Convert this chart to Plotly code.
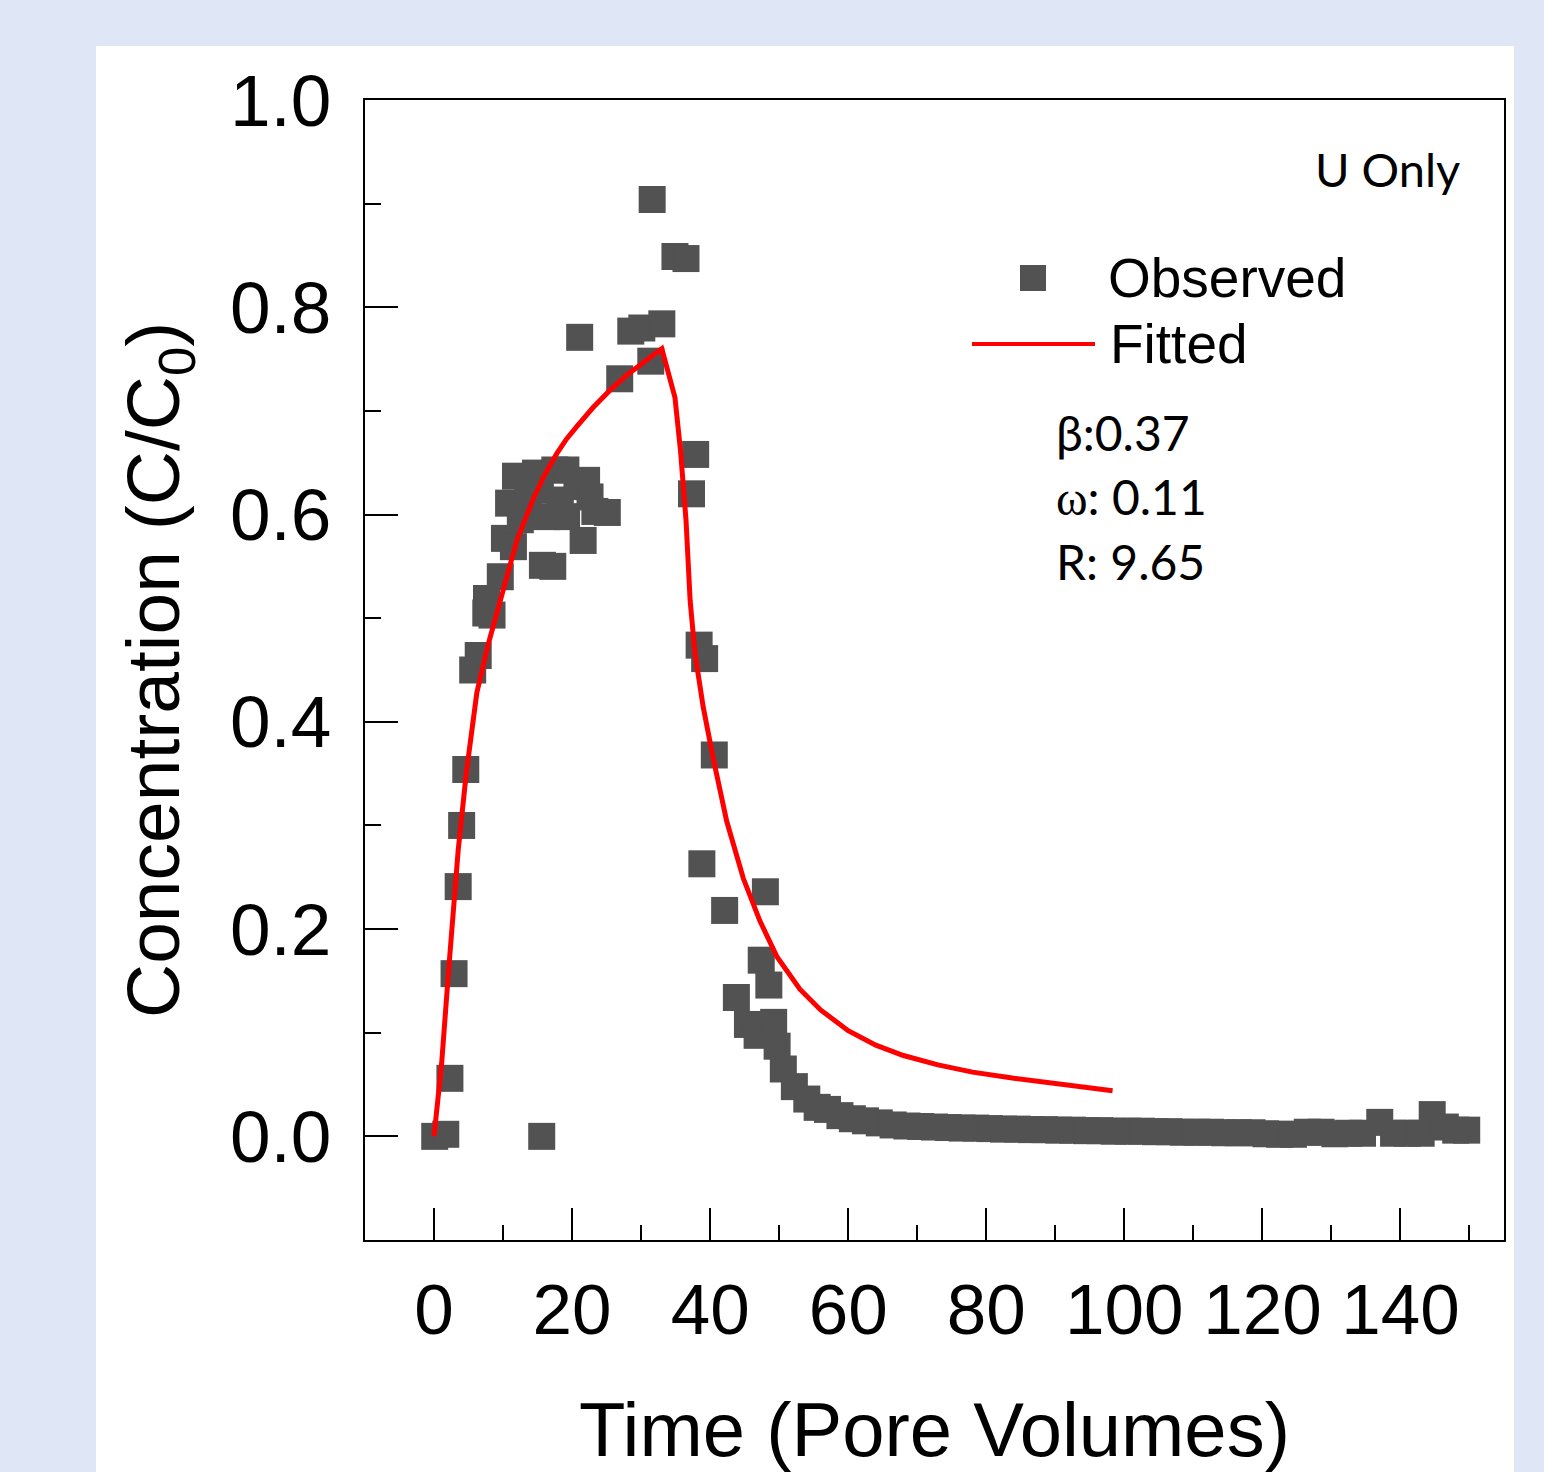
import plotly.graph_objects as go

# ---------------- data ----------------
obs_x = [0.1, 1.7, 2.3, 2.9, 3.5, 4.0, 4.6, 5.6, 6.4, 7.5, 8.4, 7.6, 9.6, 10.2, 10.8,
         11.5, 11.8, 12.5, 13.6, 14.7, 15.4, 15.7, 15.6, 16.3, 17.2, 17.5, 18.3, 19.1,
         19.2, 20.7, 21.1, 21.6, 22.1, 22.6, 23.3, 25.1, 26.9, 28.5, 30.1, 31.4, 31.6,
         33.0, 34.9, 36.5, 37.3, 37.9, 38.4, 39.2, 40.6, 38.8, 42.1, 43.8, 45.4, 46.8,
         47.4, 48.0, 48.5, 49.2, 49.7, 50.6, 52.2, 54.0, 55.5, 57.0, 58.8, 60.6,
         62.5, 64.5, 66.5, 68.5, 70.5, 72.5, 74.5, 76.5, 78.5, 80.5, 82.5, 84.5, 86.5,
         88.5, 90.5, 92.5, 94.5, 96.5, 98.5, 100.5, 102.5, 104.5, 106.5, 108.5, 110.5,
         112.5, 114.5, 116.5, 118.5, 120.5, 122.5, 124.5, 126.5, 128.5, 130.5, 132.5,
         134.5, 137.0, 139.0, 141.0, 143.0, 144.6, 146.5, 148.0, 149.6]
obs_y = [0.000, 0.002, 0.056, 0.157, 0.241, 0.300, 0.354, 0.450, 0.464, 0.505, 0.503,
         0.519, 0.540, 0.577, 0.611, 0.569, 0.637, 0.595, 0.616, 0.640, 0.624, 0.551,
         0.000, 0.598, 0.550, 0.643, 0.614, 0.643, 0.598, 0.627, 0.771, 0.575, 0.633,
         0.617, 0.603, 0.602, 0.731, 0.777, 0.780, 0.748, 0.904, 0.784, 0.849, 0.847,
         0.620, 0.658, 0.474, 0.461, 0.368, 0.263, 0.218, 0.134, 0.108, 0.0975, 0.170,
         0.236, 0.146, 0.110, 0.087, 0.065, 0.048, 0.036, 0.028, 0.026, 0.020, 0.017,
         0.015, 0.013, 0.011, 0.010, 0.0095, 0.009, 0.0085, 0.008, 0.008, 0.0075, 0.007,
         0.007, 0.0065, 0.0065, 0.006, 0.006, 0.0055, 0.0055, 0.005, 0.005, 0.005,
         0.0045, 0.0045, 0.004, 0.004, 0.004, 0.0035, 0.0035, 0.0035, 0.0025, 0.002,
         0.002, 0.004, 0.004, 0.0025, 0.003, 0.003, 0.0135, 0.003, 0.003, 0.003, 0.021,
         0.009, 0.006, 0.006]

fit_x = [0, 1.1, 2.1, 2.8, 3.5, 4.7, 6.2, 7.9, 9.6, 12.0, 14.3, 16.0, 17.8, 19.2, 20.7,
         23.0, 25.5, 28.0, 30.0, 33.0, 34.9, 35.7, 36.5, 37.1, 37.8, 39.0, 40.5, 42.4,
         44.8, 47.2, 49.7, 53.0, 56.0, 60.0, 64.0, 68.0, 73.0, 78.0, 84.0, 90.0, 98.3]
fit_y = [0.0, 0.070, 0.159, 0.221, 0.276, 0.352, 0.428, 0.476, 0.517, 0.575, 0.614,
         0.638, 0.659, 0.673, 0.685, 0.703, 0.720, 0.735, 0.745, 0.760, 0.713, 0.662,
         0.595, 0.517, 0.466, 0.414, 0.363, 0.304, 0.249, 0.208, 0.173, 0.142, 0.122,
         0.102, 0.088, 0.078, 0.069, 0.062, 0.056, 0.051, 0.044]

x_tickvals = [0, 20, 40, 60, 80, 100, 120, 140]
x_ticktext = ["0", "20", "40", "60", "80", "100", "120", "140"]
y_tickvals = [0.0, 0.2, 0.4, 0.6, 0.8, 1.0]
y_ticktext = ["0.0", "0.2", "0.4", "0.6", "0.8", "1.0"]

legend_labels = ["Observed", "Fitted"]
params_text = ["β:0.37",
               "<span style='font-family:Liberation Serif'>ω</span>: 0.11",
               "R: 9.65"]
panel_label = "U Only"

# ---------------- layout helpers ----------------
W, H = 1544, 1472
L, R, T, B = 365, 1504, 100, 1240
BG = "#dfe6f6"


def px(xp):
    return (xp - L) / (R - L)


def py(yp):
    return (B - yp) / (B - T)


ARIAL = "Liberation Sans, Arial, sans-serif"
CALIBRI = "Lato, Open Sans, sans-serif"
MARK = "#525252"

fig = go.Figure()
fig.add_trace(go.Scatter(
    x=obs_x, y=obs_y, mode="markers", name=legend_labels[0],
    marker=dict(symbol="square", size=27, color=MARK, line=dict(width=0)),
    showlegend=False, cliponaxis=False))
fig.add_trace(go.Scatter(
    x=fit_x, y=fit_y, mode="lines", name=legend_labels[1],
    line=dict(color="#ff0000", width=5), showlegend=False))

fig.update_layout(
    width=W, height=H,
    margin=dict(l=L, r=W - R, t=T, b=H - B, pad=0),
    paper_bgcolor=BG, plot_bgcolor="white",
    font=dict(family=ARIAL, color="black"),
    showlegend=False,
)

fig.update_xaxes(
    range=[-10, 155], showgrid=False, zeroline=False,
    showline=True, linecolor="black", linewidth=2, mirror=True,
    tickmode="array", tickvals=x_tickvals, ticktext=x_ticktext,
    ticks="inside", ticklen=32, tickwidth=2, tickcolor="black",
    minor=dict(ticks="inside", ticklen=15, tickwidth=2, tickcolor="black",
               tickmode="linear", tick0=0, dtick=10),
    tickfont=dict(family=ARIAL, size=71, color="black"),
    ticklabelstandoff=7,
)
fig.update_yaxes(
    range=[-0.1, 1.0], showgrid=False, zeroline=False,
    showline=True, linecolor="black", linewidth=2, mirror=True,
    tickmode="array", tickvals=y_tickvals, ticktext=y_ticktext,
    ticks="inside", ticklen=33, tickwidth=2, tickcolor="black",
    minor=dict(ticks="inside", ticklen=16, tickwidth=2, tickcolor="black",
               tickmode="linear", tick0=0, dtick=0.1),
    tickfont=dict(family=ARIAL, size=73, color="black"),
    ticklabelstandoff=17,
)

shapes = [
    # white panel
    dict(type="rect", xref="paper", yref="paper", layer="below",
         x0=px(96), x1=px(1514), y0=py(1480), y1=py(46),
         fillcolor="white", line=dict(width=0)),
    # legend square
    dict(type="rect", xref="paper", yref="paper",
         x0=px(1020), x1=px(1046), y0=py(291), y1=py(265),
         fillcolor=MARK, line=dict(width=0)),
    # legend line
    dict(type="line", xref="paper", yref="paper",
         x0=px(972), x1=px(1095), y0=py(344), y1=py(344),
         line=dict(color="#ff0000", width=4)),
]

annotations = [
    dict(text="Time (Pore Volumes)", xref="paper", yref="paper",
         x=0.5, y=py(1429), xanchor="center", yanchor="middle", showarrow=False,
         font=dict(family=ARIAL, size=76, color="black")),
    dict(text="Concentration (C/C<sub>0</sub>)", xref="paper", yref="paper",
         x=px(158), y=0.5, xanchor="center", yanchor="middle", showarrow=False,
         textangle=-90, font=dict(family=ARIAL, size=75, color="black")),
    dict(text=legend_labels[0], xref="paper", yref="paper",
         x=px(1106), y=py(278), xanchor="left", yanchor="middle", showarrow=False,
         font=dict(family=ARIAL, size=55, color="black")),
    dict(text=legend_labels[1], xref="paper", yref="paper",
         x=px(1108), y=py(344), xanchor="left", yanchor="middle", showarrow=False,
         font=dict(family=ARIAL, size=55, color="black")),
    dict(text=panel_label, xref="paper", yref="paper",
         x=px(1462), y=py(169), xanchor="right", yanchor="middle", showarrow=False,
         font=dict(family=CALIBRI, size=47, color="black")),
]
for i, t in enumerate(params_text):
    annotations.append(dict(
        text=t, xref="paper", yref="paper",
        x=px(1054), y=py(432 + 64.5 * i), xanchor="left", yanchor="middle",
        showarrow=False, font=dict(family=CALIBRI, size=48, color="black")))

fig.update_layout(shapes=shapes, annotations=annotations)
fig.write_html(
    "out.html",
    config={"displayModeBar": False},
    post_script="document.body.style.margin='0';"
                "document.body.style.background='" + BG + "';",
)
